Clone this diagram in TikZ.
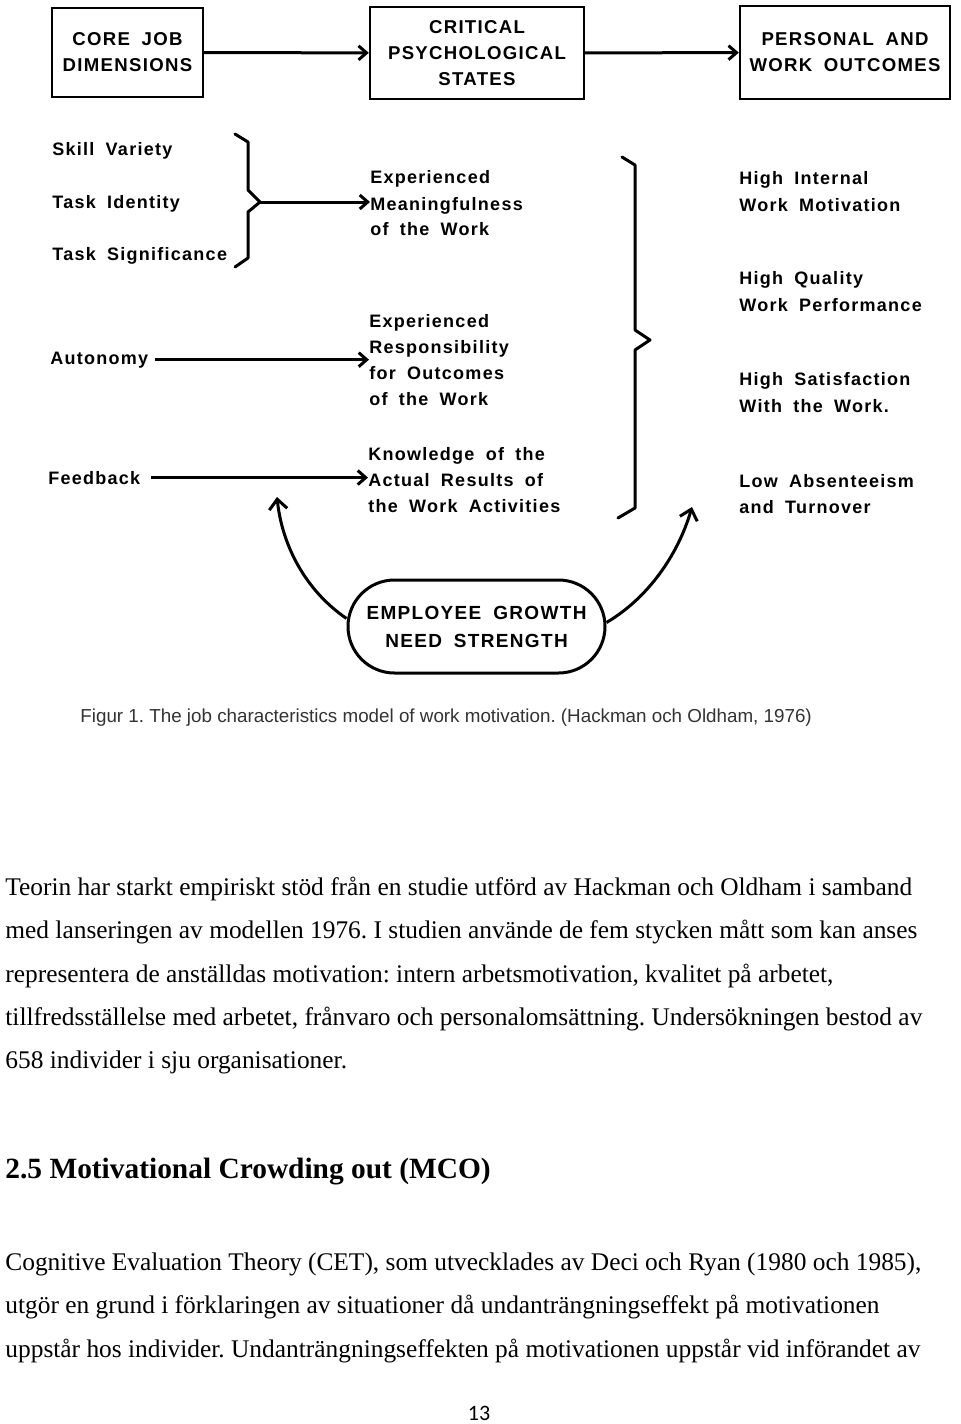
\documentclass[tikz,border=0pt]{standalone}
\usepackage{fontspec}
\setmainfont{Liberation Serif}
\newfontfamily\diafont[LetterSpace=7,WordSpace=1.8]{Liberation Sans}
\newfontfamily\capfont{Liberation Sans}
\newfontfamily\pnfont{Carlito}
\usetikzlibrary{arrows.meta,shapes.misc}
\begin{document}
\frenchspacing
\begin{tikzpicture}[x=0.5pt,y=-0.5pt,
  lab/.style={anchor=base west, inner sep=0pt, font=\diafont\bfseries\fontsize{9}{13}\selectfont},
  capbox/.style={draw, line width=1.2pt, align=center, inner sep=0pt, font=\diafont\bfseries\fontsize{9.3}{13}\selectfont},
  conn/.style={line width=1.5pt, -{Straight Barb[length=4pt,width=7pt,line width=1.5pt]}},
  curvearrow/.style={line width=1.5pt, -{Straight Barb[length=5pt,width=9pt,line width=1.5pt]}},
  bracepath/.style={line width=1.5pt, line join=round, line cap=round},
  body/.style={anchor=base west, inner sep=0pt, font=\fontsize{12.7}{14}\selectfont},
]
\useasboundingbox[fill=white] (0,0) rectangle (960,1424);

% top boxes
\node[capbox, minimum width=75.5pt, minimum height=44.5pt] (b1) at (127.5,52.5) {CORE JOB\\DIMENSIONS};
\node[capbox, minimum width=107pt, minimum height=46pt] (b2) at (477,53) {CRITICAL\\PSYCHOLOGICAL\\STATES};
\node[capbox, minimum width=105pt, minimum height=46.5pt] (b3) at (845,52.5) {PERSONAL AND\\WORK OUTCOMES};
\draw[conn] (b1) -- (b2);
\draw[conn] (b2) -- (b3);

% core job dimensions
\node[lab] (sv) at (52,155) {Skill Variety};
\node[lab] (ti) at (52,208) {Task Identity};
\node[lab] (ts) at (52,260) {Task Significance};
\node[lab] (au) at (50,364) {Autonomy};
\node[lab] (fb) at (48,484) {Feedback};

% psychological states
\node[lab] (m1) at (370,183) {Experienced};
\node[lab] (m2) at (370,210) {Meaningfulness};
\node[lab] (m3) at (370,235) {of the Work};
\node[lab] (r1) at (369,327) {Experienced};
\node[lab] (r2) at (369,353) {Responsibility};
\node[lab] (r3) at (369,379) {for Outcomes};
\node[lab] (r4) at (369,405) {of the Work};
\node[lab] (k1) at (368,460) {Knowledge of the};
\node[lab] (k2) at (368,486) {Actual Results of};
\node[lab] (k3) at (368,512) {the Work Activities};

% outcomes
\node[lab] (o1) at (739,184) {High Internal};
\node[lab] (o2) at (739,211) {Work Motivation};
\node[lab] (o3) at (739,284) {High Quality};
\node[lab] (o4) at (739,311) {Work Performance};
\node[lab] (o5) at (739,385) {High Satisfaction};
\node[lab] (o6) at (739,412) {With the Work.};
\node[lab] (o7) at (739,487) {Low Absenteeism};
\node[lab] (o8) at (739,513) {and Turnover};

% braces
\draw[bracepath] (235,134) -- (248,142) -- (248,190) -- (260,202) -- (248,212) -- (248,258) -- (235,267);
\coordinate (tip1) at (260,202);
\draw[bracepath] (622,157) -- (635,165) -- (635,330) -- (650,340) -- (635,350) -- (635,508) -- (618,518);

% arrows
\draw[conn] (tip1) -- (tip1 -| m2.west);
\draw[conn] ([xshift=3pt]au.east) -- (au.east -| r2.west);
\draw[conn] ([xshift=5pt]fb.east) -- (fb.east -| k2.west);

% growth need strength
\node[draw, rounded rectangle, line width=1.5pt, minimum width=128.5pt, minimum height=46.5pt, align=center, inner sep=0pt,
  font=\diafont\bfseries\fontsize{9.5}{14}\selectfont] (gns) at (476.5,626.5) {EMPLOYEE GROWTH\\NEED STRENGTH};
\coordinate (lt) at (277,497);
\coordinate (rt) at (692,507);
\draw[curvearrow] ([yshift=4pt]gns.west) .. controls (305,590) and (282,545) .. (lt);
\draw[curvearrow] ([yshift=2pt]gns.east) .. controls (648,598) and (678,555) .. (rt);

% caption
\node[anchor=base west, inner sep=0pt, text=black!80, font=\capfont\fontsize{9.4}{10}\selectfont] (cap) at (80,722)
  {Figur 1. The job characteristics model of work motivation. (Hackman och Oldham, 1976)};

% body text
\node[body] (p1) at (5,895) {Teorin har starkt empiriskt stöd från en studie utförd av Hackman och Oldham i samband};
\node[body] (p2) at (5,938) {med lanseringen av modellen 1976. I studien använde de fem stycken mått som kan anses};
\node[body] (p3) at (5,982) {representera de anställdas motivation: intern arbetsmotivation, kvalitet på arbetet,};
\node[body] (p4) at (5,1025) {tillfredsställelse med arbetet, frånvaro och personalomsättning. Undersökningen bestod av};
\node[body] (p5) at (5,1068) {658 individer i sju organisationer.};
\node[anchor=base west, inner sep=0pt, font=\bfseries\fontsize{14.7}{16}\selectfont] (h) at (5,1178) {2.5 Motivational Crowding out (MCO)};
\node[body] (q1) at (5,1270) {Cognitive Evaluation Theory (CET), som utvecklades av Deci och Ryan (1980 och 1985),};
\node[body] (q2) at (5,1313) {utgör en grund i förklaringen av situationer då undanträngningseffekt på motivationen};
\node[body] (q3) at (5,1357) {uppstår hos individer. Undanträngningseffekten på motivationen uppstår vid införandet av};
\node[anchor=base, inner sep=0pt, font=\pnfont\fontsize{11}{12}\selectfont] (pn) at (479,1420) {13};
\end{tikzpicture}
\end{document}
